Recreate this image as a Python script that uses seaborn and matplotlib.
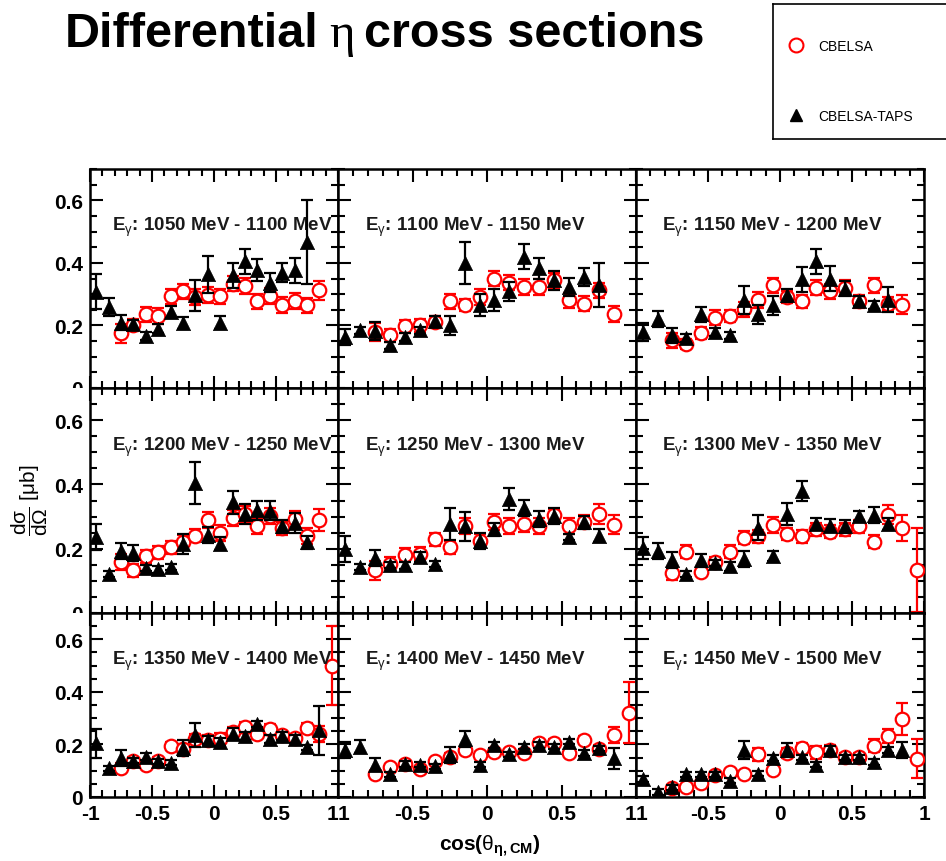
import numpy as np
import pandas as pd
import matplotlib
matplotlib.use("Agg")
import matplotlib.pyplot as plt
from matplotlib.lines import Line2D
from matplotlib.transforms import Bbox, TransformedBbox
from matplotlib.ticker import MultipleLocator, FixedLocator
import seaborn as sns

nan = np.nan

# cos(theta) bin centres
cos_bins = [-0.95, -0.85, -0.75, -0.65, -0.55, -0.45, -0.35, -0.25, -0.15, -0.05,
            0.05, 0.15, 0.25, 0.35, 0.45, 0.55, 0.65, 0.75, 0.85, 0.95]

energy_bins = ["1050 MeV - 1100 MeV", "1100 MeV - 1150 MeV", "1150 MeV - 1200 MeV",
               "1200 MeV - 1250 MeV", "1250 MeV - 1300 MeV", "1300 MeV - 1350 MeV",
               "1350 MeV - 1400 MeV", "1400 MeV - 1450 MeV", "1450 MeV - 1500 MeV"]

# CBELSA-TAPS cross sections [mub] and errors
taps_1050 = [0.307, 0.259, 0.209, 0.203, 0.166, 0.19, 0.243, 0.207, 0.296, 0.363, 0.209, 0.36, 0.405, 0.376, 0.336, 0.368, 0.376, 0.467, nan, nan]
taps_1050_err = [0.056, 0.03, 0.025, 0.015, 0.012, 0.015, 0.02, 0.02, 0.05, 0.06, 0.02, 0.04, 0.04, 0.035, 0.03, 0.03, 0.04, 0.135, nan, nan]
taps_1100 = [0.163, 0.184, 0.182, 0.136, 0.163, 0.184, 0.213, 0.2, 0.40, 0.264, 0.28, 0.309, 0.419, 0.382, 0.344, 0.323, 0.355, 0.328, nan, nan]
taps_1100_err = [0.025, 0.012, 0.03, 0.012, 0.012, 0.012, 0.018, 0.03, 0.066, 0.035, 0.035, 0.03, 0.04, 0.032, 0.03, 0.03, 0.03, 0.07, nan, nan]
taps_1150 = [0.179, 0.221, 0.168, 0.16, 0.235, 0.179, 0.168, 0.28, 0.235, 0.264, 0.296, 0.347, 0.405, 0.35, 0.318, 0.278, 0.266, 0.282, nan, nan]
taps_1150_err = [0.03, 0.025, 0.025, 0.012, 0.025, 0.012, 0.012, 0.045, 0.03, 0.03, 0.02, 0.04, 0.04, 0.04, 0.025, 0.015, 0.012, 0.04, nan, nan]
taps_1200 = [0.236, 0.122, 0.194, 0.186, 0.14, 0.136, 0.143, 0.215, 0.405, 0.243, 0.215, 0.344, 0.308, 0.32, 0.318, 0.27, 0.28, 0.22, nan, nan]
taps_1200_err = [0.04, 0.01, 0.025, 0.025, 0.01, 0.01, 0.01, 0.03, 0.065, 0.025, 0.02, 0.035, 0.03, 0.03, 0.03, 0.02, 0.03, 0.02, nan, nan]
taps_1250 = [0.2, 0.143, 0.171, 0.15, 0.148, 0.174, 0.153, 0.277, 0.27, 0.225, 0.261, 0.354, 0.328, 0.292, 0.302, 0.236, 0.282, 0.241, nan, nan]
taps_1250_err = [0.04, 0.01, 0.025, 0.01, 0.01, 0.015, 0.01, 0.05, 0.045, 0.025, 0.02, 0.035, 0.025, 0.025, 0.025, 0.01, 0.02, 0.02, nan, nan]
taps_1300 = [0.203, 0.194, 0.164, 0.122, 0.164, 0.156, 0.145, 0.169, 0.266, 0.177, 0.308, 0.38, 0.277, 0.272, 0.27, 0.302, 0.305, 0.277, nan, nan]
taps_1300_err = [0.035, 0.025, 0.025, 0.01, 0.02, 0.01, 0.015, 0.025, 0.04, 0.015, 0.035, 0.03, 0.02, 0.02, 0.02, 0.015, 0.025, 0.02, nan, nan]
taps_1350 = [0.204, 0.109, 0.148, 0.138, 0.154, 0.136, 0.13, 0.185, 0.235, 0.216, 0.21, 0.241, 0.232, 0.278, 0.222, 0.232, 0.222, 0.189, 0.253, nan]
taps_1350_err = [0.055, 0.01, 0.03, 0.01, 0.015, 0.01, 0.01, 0.03, 0.045, 0.015, 0.015, 0.02, 0.015, 0.01, 0.015, 0.015, 0.015, 0.01, 0.095, nan]
taps_1400 = [0.179, 0.191, 0.123, 0.086, 0.126, 0.123, 0.117, 0.16, 0.222, 0.123, 0.198, 0.163, 0.191, 0.198, 0.191, 0.21, 0.167, 0.185, 0.148, nan]
taps_1400_err = [0.03, 0.025, 0.025, 0.01, 0.01, 0.01, 0.01, 0.03, 0.03, 0.01, 0.01, 0.01, 0.01, 0.01, 0.01, 0.01, 0.01, 0.01, 0.04, nan]
taps_1450 = [0.068, 0.019, 0.037, 0.086, 0.086, 0.086, 0.062, 0.179, 0.089, 0.148, 0.179, 0.151, 0.123, 0.179, 0.151, 0.151, 0.133, 0.179, 0.179, nan]
taps_1450_err = [0.01, 0.01, 0.01, 0.01, 0.01, 0.01, 0.01, 0.035, 0.01, 0.01, 0.025, 0.01, 0.01, 0.015, 0.01, 0.01, 0.01, 0.01, 0.03, nan]

# CBELSA cross sections [mub] and errors
cb_1050 = [nan, nan, 0.175, 0.202, 0.235, 0.23, 0.293, 0.309, 0.291, 0.298, 0.293, 0.334, 0.326, 0.277, 0.294, 0.266, 0.278, 0.264, 0.312, nan]
cb_1050_err = [nan, nan, 0.03, 0.02, 0.025, 0.025, 0.025, 0.025, 0.025, 0.025, 0.025, 0.025, 0.025, 0.025, 0.025, 0.025, 0.025, 0.025, 0.03, nan]
cb_1100 = [nan, nan, 0.179, 0.168, 0.197, 0.2, 0.211, 0.277, 0.266, 0.291, 0.35, 0.337, 0.323, 0.323, 0.344, 0.28, 0.27, 0.312, 0.237, nan]
cb_1100_err = [nan, nan, 0.03, 0.02, 0.02, 0.02, 0.02, 0.025, 0.02, 0.025, 0.025, 0.025, 0.025, 0.025, 0.025, 0.025, 0.025, 0.025, 0.025, nan]
cb_1150 = [nan, nan, 0.152, 0.141, 0.176, 0.225, 0.23, 0.251, 0.282, 0.328, 0.291, 0.277, 0.321, 0.309, 0.321, 0.277, 0.328, 0.27, 0.266, nan]
cb_1150_err = [nan, nan, 0.025, 0.015, 0.02, 0.025, 0.02, 0.025, 0.025, 0.025, 0.02, 0.02, 0.025, 0.025, 0.025, 0.02, 0.025, 0.02, 0.03, nan]
cb_1200 = [nan, nan, 0.158, 0.133, 0.177, 0.189, 0.205, 0.222, 0.241, 0.29, 0.249, 0.297, 0.308, 0.27, 0.302, 0.263, 0.292, 0.241, 0.29, nan]
cb_1200_err = [nan, nan, 0.025, 0.02, 0.02, 0.02, 0.02, 0.02, 0.02, 0.025, 0.025, 0.025, 0.025, 0.025, 0.025, 0.02, 0.025, 0.025, 0.035, nan]
cb_1250 = [nan, nan, 0.133, 0.153, 0.182, 0.184, 0.23, 0.205, 0.27, 0.225, 0.284, 0.27, 0.277, 0.27, 0.305, 0.27, 0.284, 0.308, 0.275, nan]
cb_1250_err = [nan, nan, 0.03, 0.02, 0.02, 0.02, 0.02, 0.02, 0.025, 0.02, 0.025, 0.025, 0.025, 0.025, 0.02, 0.025, 0.02, 0.03, 0.03, nan]
cb_1300 = [nan, nan, 0.124, 0.191, 0.128, 0.158, 0.191, 0.234, 0.239, 0.274, 0.246, 0.239, 0.261, 0.253, 0.261, 0.27, 0.222, 0.306, 0.264, 0.133]
cb_1300_err = [nan, nan, 0.02, 0.02, 0.01, 0.015, 0.02, 0.02, 0.02, 0.025, 0.02, 0.02, 0.02, 0.02, 0.02, 0.02, 0.02, 0.03, 0.04, 0.13]
cb_1350 = [nan, nan, 0.111, 0.136, 0.121, 0.136, 0.195, 0.181, 0.22, 0.216, 0.222, 0.247, 0.265, 0.241, 0.259, 0.237, 0.225, 0.262, 0.241, 0.5]
cb_1350_err = [nan, nan, 0.02, 0.015, 0.015, 0.015, 0.015, 0.02, 0.02, 0.02, 0.02, 0.02, 0.02, 0.02, 0.02, 0.015, 0.015, 0.02, 0.03, 0.15]
cb_1400 = [nan, nan, 0.086, 0.115, 0.126, 0.105, 0.136, 0.151, 0.177, 0.16, 0.17, 0.17, 0.167, 0.204, 0.204, 0.167, 0.216, 0.183, 0.235, 0.321]
cb_1400_err = [nan, nan, 0.01, 0.01, 0.01, 0.01, 0.01, 0.015, 0.01, 0.01, 0.01, 0.01, 0.01, 0.015, 0.015, 0.01, 0.015, 0.015, 0.03, 0.115]
cb_1450 = [nan, nan, 0.033, 0.037, 0.052, 0.084, 0.096, 0.089, 0.163, 0.101, 0.167, 0.185, 0.17, 0.179, 0.151, 0.154, 0.195, 0.232, 0.296, 0.146]
cb_1450_err = [nan, nan, 0.01, 0.01, 0.01, 0.01, 0.01, 0.01, 0.025, 0.01, 0.02, 0.02, 0.025, 0.02, 0.015, 0.015, 0.025, 0.025, 0.06, 0.075]

taps_sets = [(taps_1050, taps_1050_err), (taps_1100, taps_1100_err), (taps_1150, taps_1150_err),
             (taps_1200, taps_1200_err), (taps_1250, taps_1250_err), (taps_1300, taps_1300_err),
             (taps_1350, taps_1350_err), (taps_1400, taps_1400_err), (taps_1450, taps_1450_err)]
cb_sets = [(cb_1050, cb_1050_err), (cb_1100, cb_1100_err), (cb_1150, cb_1150_err),
           (cb_1200, cb_1200_err), (cb_1250, cb_1250_err), (cb_1300, cb_1300_err),
           (cb_1350, cb_1350_err), (cb_1400, cb_1400_err), (cb_1450, cb_1450_err)]

sns.set_style("ticks")
plt.rcParams["font.family"] = ["Liberation Sans", "DejaVu Sans"]
plt.rcParams["mathtext.fontset"] = "custom"
plt.rcParams["mathtext.rm"] = "Liberation Sans"
plt.rcParams["mathtext.it"] = "Liberation Sans:italic"
plt.rcParams["mathtext.bf"] = "Liberation Sans:bold"
for key in ("text.color", "axes.labelcolor", "xtick.color", "ytick.color", "axes.edgecolor"):
    plt.rcParams[key] = "black"

W, H = 946, 862
fig = plt.figure(figsize=(W / 100, H / 100), dpi=100)

# pad geometry in pixels (left, right) per column and (top, bottom) per row
col_px = [(90, 338), (338, 636), (636, 924)]
row_px = [(170, 389), (389, 614), (614, 798)]

RED = "#ff0000"
tick_font = dict(fontsize=15, fontweight="bold")

axes = []
for i in range(9):
    r, c = divmod(i, 3)
    x0, x1 = col_px[c]
    y0, y1 = row_px[r]
    ax = fig.add_axes([x0 / W, 1 - y1 / H, (x1 - x0) / W, (y1 - y0) / H])
    ax.set_facecolor("white")
    axes.append(ax)

    df = pd.DataFrame({"cos": cos_bins,
                       "cb": cb_sets[i][0], "cb_err": cb_sets[i][1],
                       "taps": taps_sets[i][0], "taps_err": taps_sets[i][1]})
    dcb = df.dropna(subset=["cb"])
    dt = df.dropna(subset=["taps"])

    # CBELSA: red open circles
    ax.errorbar(dcb["cos"], dcb["cb"], yerr=dcb["cb_err"], fmt="none",
                ecolor=RED, elinewidth=1.6, capsize=4, capthick=1.6, zorder=2)
    sns.scatterplot(data=dcb, x="cos", y="cb", ax=ax, marker="o", s=95,
                    facecolor="white", edgecolor=RED, linewidth=1.6, zorder=3)
    # CBELSA-TAPS: black filled triangles
    ax.errorbar(dt["cos"], dt["taps"], yerr=dt["taps_err"], fmt="none",
                ecolor="black", elinewidth=1.6, capsize=4, capthick=1.6, zorder=4)
    sns.scatterplot(data=dt, x="cos", y="taps", ax=ax, marker="^", s=105,
                    color="black", edgecolor="black", linewidth=0.5, zorder=5)

    ax.set_xlim(-1, 1)
    ax.set_ylim(0, 0.7)
    ax.set_xlabel("")
    ax.set_ylabel("")
    ax.xaxis.set_major_locator(FixedLocator([-1, -0.5, 0, 0.5, 1]))
    ax.xaxis.set_minor_locator(MultipleLocator(0.1))
    ax.yaxis.set_major_locator(FixedLocator([0, 0.2, 0.4, 0.6]))
    ax.yaxis.set_minor_locator(MultipleLocator(0.05))
    ax.tick_params(which="both", direction="in", top=True, right=True,
                   width=1.5, color="black")
    ax.tick_params(which="major", length=9)
    ax.tick_params(which="minor", length=5)
    for sp in ax.spines.values():
        sp.set_linewidth(1.8)
        sp.set_color("black")

    if c == 0:
        ax.set_yticklabels(["0", "0.2", "0.4", "0.6"], **tick_font)
        ax.tick_params(axis="y", pad=5)
    else:
        ax.set_yticklabels([])
    if r == 2:
        labs = ["-1", "-0.5", "0", "0.5", "1"] if c == 0 else ["1", "-0.5", "0", "0.5", "1"]
        ax.set_xticklabels(labs, **tick_font)
        ax.tick_params(axis="x", pad=5)
        tl = ax.get_xticklabels()
        if c < 2:
            tl[-1].set_horizontalalignment("right")
        if c > 0:
            tl[0].set_horizontalalignment("left")
    else:
        ax.set_xticklabels([])

    ax.text(0.09, 0.74, r"E$_{\mathrm{\gamma}}$: " + energy_bins[i], transform=ax.transAxes,
            fontsize=13.5, fontweight="bold", color="#1a1a1a", va="center", ha="left")

# bottom "0" label of the upper rows is cut by the pad below
for i in (0, 3):
    ax = axes[i]
    y_cut = 1 - row_px[i // 3][1] / H
    lab = ax.yaxis.get_major_ticks()[0].label1
    lab.set_clip_on(True)
    lab.set_clip_box(TransformedBbox(Bbox([[0, y_cut], [1, 1]]), fig.transFigure))

# title: bold words with a thin greek eta between them
title_y = 1 - 47 / H
t1 = fig.text(65 / W, title_y, "Differential", fontsize=35, fontweight="bold",
              va="baseline", ha="left")
fig.canvas.draw()
rend = fig.canvas.get_renderer()
bb = t1.get_window_extent(rend)
t2 = fig.text((bb.x1 + 10) / W, title_y, "\u03b7", fontsize=35, fontweight="normal",
              family="Liberation Serif", va="baseline", ha="left")
bb2 = t2.get_window_extent(rend)
fig.text((bb2.x1 + 10) / W, title_y, "cross sections", fontsize=35, fontweight="bold",
         va="baseline", ha="left")

fig.text(30 / W, 1 - 500 / H, r"$\dfrac{\mathrm{d\sigma}}{\mathrm{d\Omega}}$ [$\mathrm{\mu}$b]",
         rotation=90, fontsize=15, va="center", ha="center")
fig.text(490 / W, 1 - 846 / H, r"cos($\mathrm{\theta}_{\mathbf{\eta,CM}}$)",
         fontsize=15, fontweight="bold", va="center", ha="center")

# legend box
lax = fig.add_axes([773 / W, 1 - 140 / H, 200 / W, 135 / H])
lax.set_xticks([])
lax.set_yticks([])
for sp in lax.spines.values():
    sp.set_linewidth(1.2)
handles = [Line2D([], [], ls="none", marker="o", ms=10, mfc="white", mec=RED, mew=1.5),
           Line2D([], [], ls="none", marker="^", ms=9, mfc="black", mec="black")]
lax.legend(handles, ["CBELSA", "CBELSA-TAPS"], loc="upper left", frameon=False,
           fontsize=10, labelspacing=4.0, handletextpad=0.6, borderaxespad=0.0,
           bbox_to_anchor=(0.02, 0.78))

fig.savefig("out.png", dpi=100)
